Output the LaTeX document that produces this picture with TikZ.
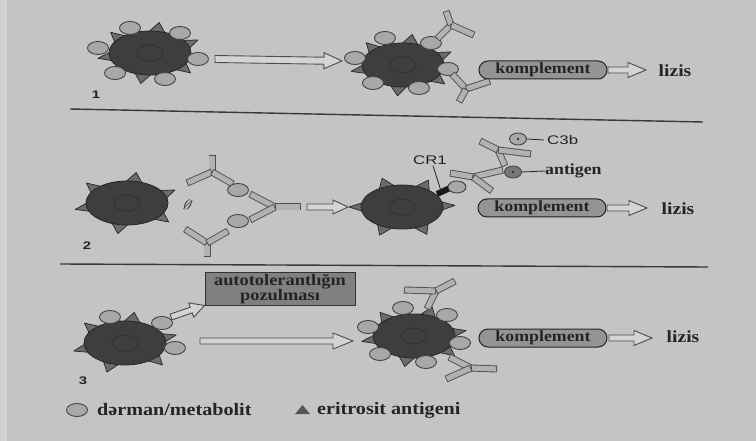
\documentclass[tikz,border=0pt]{standalone}
\usepackage{fontspec}
\setmainfont{Liberation Serif}
\newfontfamily\labserif[FakeStretch=1.15]{Liberation Serif}
\newfontfamily\labsans[FakeStretch=1.35]{Liberation Sans}
\usetikzlibrary{calc,shapes.geometric}

\definecolor{page}{RGB}{196,196,196}
\definecolor{pageedge}{RGB}{214,210,210}
\definecolor{ink}{RGB}{36,36,36}
\definecolor{cellfill}{RGB}{62,62,62}
\definecolor{celledge}{RGB}{38,38,38}
\definecolor{spikefill}{RGB}{108,108,108}
\definecolor{drugfill}{RGB}{168,168,168}
\definecolor{drugedge}{RGB}{66,66,66}
\definecolor{agfill}{RGB}{120,120,120}
\definecolor{abfill}{RGB}{178,178,178}
\definecolor{abedge}{RGB}{78,78,78}
\definecolor{pillfill}{RGB}{148,148,148}
\definecolor{boxfill}{RGB}{128,128,128}
\definecolor{arrowfill}{RGB}{212,212,212}

\tikzset{
  spike/.style={fill=spikefill, draw=celledge, line width=0.7, line join=round},
  cellbody/.style={fill=cellfill, draw=celledge, line width=0.8},
  nucleus/.style={draw=black!80, line width=1.1},
  drug/.style={ellipse, fill=drugfill, draw=drugedge, line width=0.9,
    minimum width=21, minimum height=13, inner sep=0},
  smallball/.style={ellipse, fill=agfill, draw=drugedge, line width=0.9,
    minimum width=17, minimum height=12, inner sep=0},
  fatarr/.style={fill=arrowfill, draw=black!70, line width=0.9, line join=miter},
  pill/.style={draw=ink, line width=1, fill=pillfill, rounded corners=9,
    minimum width=128, minimum height=18, inner sep=0, text=ink,
    font=\labserif\bfseries\fontsize{15.5}{15.5}\selectfont},
  result/.style={text=ink, inner sep=0, font=\labserif\bfseries\fontsize{17}{17}\selectfont},
  tag/.style={text=ink, inner sep=0, font=\labserif\bfseries\fontsize{15.5}{15.5}\selectfont},
  sanstag/.style={text=ink, inner sep=0, font=\labsans\fontsize{12.5}{12.5}\selectfont},
  panelno/.style={text=ink, inner sep=0, font=\labsans\bfseries\fontsize{11}{11}\selectfont},
  legend/.style={text=ink, inner sep=0, anchor=west,
    font=\labserif\bfseries\fontsize{17.5}{17.5}\selectfont},
  rule/.style={draw=black!78, line width=1.4},
  pointer/.style={draw=ink, line width=0.8},
}

% red cell with spikes at the given angles
\newcommand\rbc[2]{%
  \begin{scope}[shift={(#1)}]
    \foreach \t in {#2} {
      \draw[spike] ({53*cos(\t)},{31*sin(\t)})
        -- ({37*cos(\t-18)},{18*sin(\t-18)})
        -- ({37*cos(\t+18)},{18*sin(\t+18)}) -- cycle;
    }
    \draw[cellbody] (0,0) ellipse [x radius=41, y radius=22];
    \draw[nucleus] (0,0) ellipse [x radius=13, y radius=8];
  \end{scope}}

% one outlined bar of an antibody
\newcommand\abbar[2]{%
  \draw[line width=7, draw=abedge] (#1) -- (#2);
  \draw[line width=5.2, draw=abfill, shorten <=0.9, shorten >=0.9] (#1) -- (#2);}

% antibody: fork point, stem end, two arm ends
\newcommand\antibody[4]{\abbar{#1}{#2}\abbar{#1}{#3}\abbar{#1}{#4}}

% hollow block arrow: start, tip, half shaft, half head, head length (in pt)
\newcommand\fatarrow[5]{%
  \coordinate (hb) at ($(#2)!#5pt!(#1)$);
  \draw[fatarr] ($(#1)!#3pt!90:(#2)$) -- ($(hb)!#3pt!-90:(#1)$)
    -- ($(hb)!#4pt!-90:(#1)$) -- (#2) -- ($(hb)!#4pt!90:(#1)$)
    -- ($(hb)!#3pt!90:(#1)$) -- ($(#1)!#3pt!-90:(#2)$) -- cycle;}

\begin{document}
\begin{tikzpicture}[x=1pt, y=-1pt]
  % sheet
  \fill[page] (0,0) rectangle (756,441);
  \fill[pageedge] (0,0) rectangle (7,441);
  \useasboundingbox (0,0) rectangle (756,441);

  % ---------------- row 1 ----------------
  \coordinate (c1a) at (150,53);
  \rbc{c1a}{-138,-80,-25,40,100,170}
  \foreach \p [count=\i] in {{130,28},{180,33},{98,48},{198,59},{115,73},{165,79}}
    \node[drug] (d1a\i) at (\p) {};

  \coordinate (a1s) at (215,59);
  \coordinate (a1e) at (342,61);
  \fatarrow{a1s}{a1e}{3.5}{8}{18}

  \coordinate (c1b) at (403,65);
  \rbc{c1b}{-134,-80,-25,38,96,168}
  \foreach \p [count=\i] in {{385,38},{431,43},{355,58},{448,69},{373,83},{419,88}}
    \node[drug] (d1b\i) at (\p) {};
  \antibody{451,25}{437,39}{446,11}{474,35}
  \antibody{466,89}{452,74}{490,81}{459,102}

  \node[pill] (k1) at (543,70) {komplement};
  \coordinate (k1s) at (608,70);
  \coordinate (k1e) at (646,70);
  \fatarrow{k1s}{k1e}{3}{7.5}{18}
  \node[result] (l1) at (675,71) {lizis};
  \node[panelno] (n1) at (96,95) {1};

  \coordinate (r1a) at (70,109);
  \coordinate (r1b) at (703,122);
  \draw[rule] (r1a) -- (r1b);

  % ---------------- row 2 ----------------
  \coordinate (c2a) at (127,203);
  \rbc{c2a}{-140,-80,-25,38,100,168}
  \node[text=ink, inner sep=0, font=\fontsize{15}{15}\selectfont, rotate=-30] (phi) at (188,205) {$\emptyset$};

  \antibody{212,172}{212,155}{187,183}{233,184}
  \antibody{207,243}{207,257}{185,229}{228,231}
  \node[drug] (d2a) at (238,190) {};
  \node[drug] (d2b) at (238,221) {};
  \antibody{275,207}{301,207}{250,194}{250,220}

  \coordinate (a2s) at (307,207);
  \coordinate (a2e) at (348,207);
  \fatarrow{a2s}{a2e}{3}{7}{15}

  \coordinate (c2b) at (402,207);
  \rbc{c2b}{-112,-60,-3,62,115,180}

  \coordinate (cr1a) at (437,194);
  \coordinate (cr1b) at (450,188);
  \draw[line width=6, draw=black!90] (cr1a) -- (cr1b);
  \node[sanstag] (cr1) at (430,160) {CR1};
  \coordinate (cr1p) at (441,191);
  \draw[pointer] (cr1.south) ++(3,1) -- (cr1p);

  \node[drug, minimum width=18, minimum height=12] (d2c) at (457,187) {};
  \antibody{473,177}{503,170}{450,173}{492,191}
  \node[smallball] (ag) at (513,172) {};
  \fill[black!80] (ag.center) circle [radius=1.3];
  \antibody{498,150}{505,166}{480,141}{531,154}
  \node[smallball, fill=drugfill] (c3) at (518,139) {};
  \fill[black!80] (c3.center) circle [radius=1.3];

  \node[tag, anchor=west] (agl) at (545,171) {antigen};
  \draw[pointer] (ag.east) -- (agl.west);
  \node[sanstag, anchor=west] (c3l) at (547,140) {C3b};
  \draw[pointer] (c3.east) -- ([xshift=-3]c3l.west);

  \node[pill] (k2) at (542,208) {komplement};
  \coordinate (k2s) at (607,208);
  \coordinate (k2e) at (647,208);
  \fatarrow{k2s}{k2e}{3}{7.5}{18}
  \node[result] (l2) at (678,209) {lizis};
  \node[panelno] (n2) at (87,246) {2};

  \coordinate (r2a) at (60,264);
  \coordinate (r2b) at (708,267);
  \draw[rule] (r2a) -- (r2b);

  % ---------------- row 3 ----------------
  \coordinate (c3a) at (125,343);
  \rbc{c3a}{-140,-80,-15,45,110,165}
  \foreach \p [count=\i] in {{110,317},{162,323},{175,348}}
    \node[drug] (d3a\i) at (\p) {};

  \node[draw=black!80, line width=1, fill=boxfill, minimum width=150, minimum height=32,
        inner sep=0, align=center, text=ink,
        font=\labserif\bfseries\fontsize{16}{12}\selectfont] (tol) at (280,289)
        {autotolerantlığın\\pozulması};
  \coordinate (ts) at (171,317);
  \fatarrow{ts}{tol.south west}{3}{7.5}{14}

  \coordinate (a3s) at (200,341);
  \coordinate (a3e) at (353,341);
  \fatarrow{a3s}{a3e}{3}{8}{20}

  \coordinate (c3b) at (414,336);
  \rbc{c3b}{-130,-70,-10,40,100,170}
  \foreach \p [count=\i] in {{403,308},{447,315},{368,327},{460,343},{380,354},{426,362}}
    \node[drug] (d3b\i) at (\p) {};
  \antibody{436,291}{427,309}{404,290}{455,281}
  \antibody{471,368}{449,357}{497,369}{446,379}

  \node[pill] (k3) at (543,338) {komplement};
  \coordinate (k3s) at (609,338);
  \coordinate (k3e) at (652,338);
  \fatarrow{k3s}{k3e}{3}{7.5}{18}
  \node[result] (l3) at (683,337) {lizis};
  \node[panelno] (n3) at (83,381) {3};

  % ---------------- key ----------------
  \node[drug] (keyd) at (77,410) {};
  \node[legend] (keydt) at (97,410) {dərman/metabolit};
  \fill[spikefill!80!black] (295,414) -- (310,414) -- (302.5,405) -- cycle;
  \node[legend] (keyat) at (317,410) {eritrosit antigeni};
\end{tikzpicture}
\end{document}
